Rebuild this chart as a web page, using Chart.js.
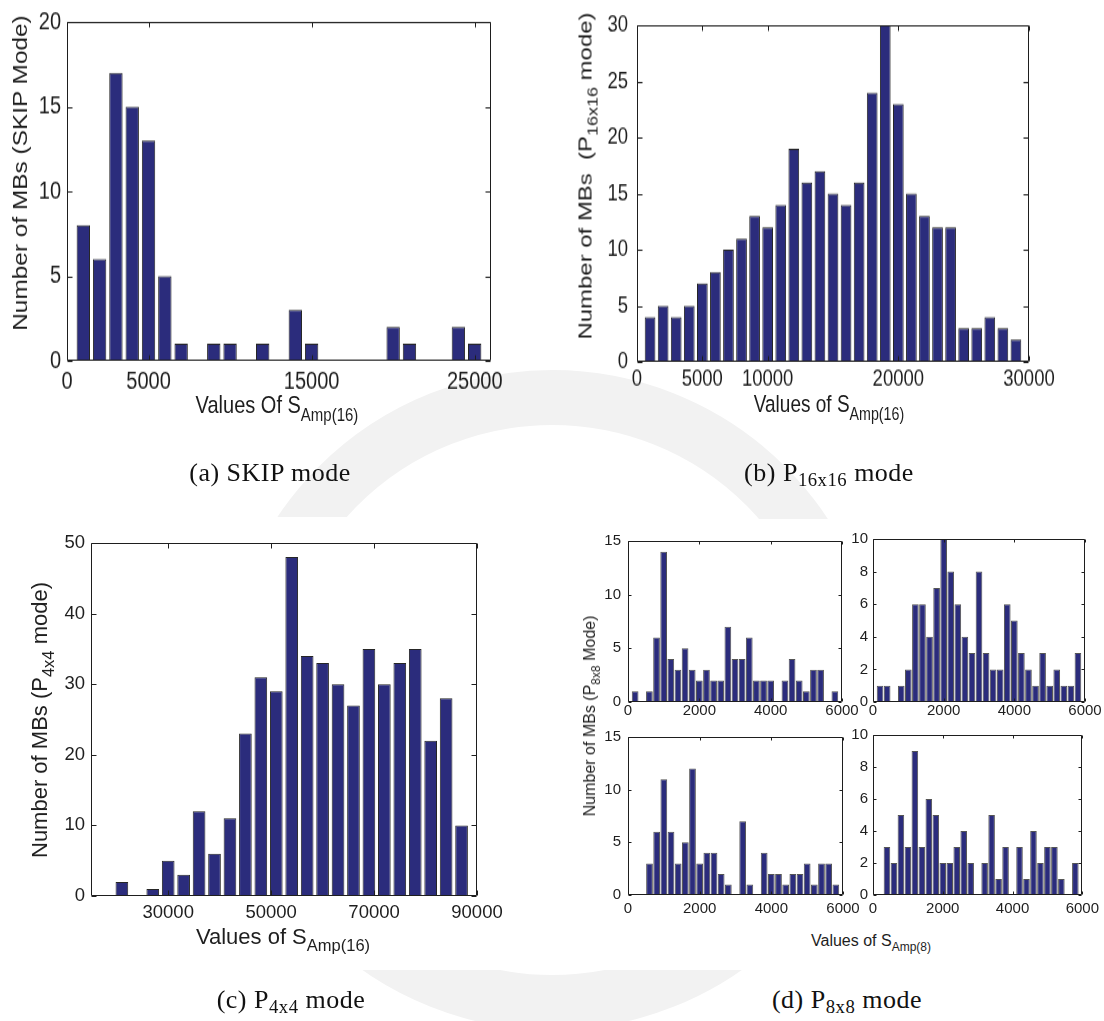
<!DOCTYPE html>
<html>
<head>
<meta charset="utf-8">
<script src="https://cdn.jsdelivr.net/npm/chart.js@4.4.1/dist/chart.umd.min.js"></script>
<style>
  body { margin: 0; background: #fff; }
  #page { position: relative; width: 1104px; height: 1021px; overflow: hidden; background: #fff;
          font-family: 'Liberation Sans', Arial, sans-serif; color: #1e1e1e; }
  .mark { position: absolute; box-sizing: border-box; border-radius: 50%; border: 55px solid #f2f2f2; }
  .sheet { position: absolute; background: #fff; }
  canvas { position: absolute; }
  .title { position: absolute; white-space: nowrap; line-height: 1; }
  .title sub { font-size: 0.75em; vertical-align: -0.45em; line-height: 0; }
  .caption { position: absolute; white-space: nowrap; line-height: 1; transform: translateX(-50%);
             font-family: 'Liberation Serif', serif; font-size: 26px; letter-spacing: 0.5px; color: #111; }
  .caption sub { font-size: 0.72em; vertical-align: -0.25em; line-height: 0; }
</style>
</head>
<body>
<div id="page">
  <div class="mark" style="left:222px; top:370px; width:660px; height:660px;"></div>
  <div class="sheet" style="left:18px; top:517px; width:535px; height:453px;"></div>
  <div class="sheet" style="left:583px; top:519px; width:521px; height:451px;"></div>

  <!-- (a) SKIP: bitmap is 361 tall, shown 440 tall -->
  <canvas id="skipChart" width="545" height="361" style="left:0; top:0; width:545px; height:440px;"></canvas>
  <div class="title" style="left:277px; top:394px; font-size:20px; transform:translateX(-50%) scaleY(1.22);">Values Of S<sub>Amp(16)</sub></div>
  <div class="title" style="left:20px; top:173px; font-size:20px; transform:translate(-50%,-50%) rotate(-90deg) scaleX(1.22);">Number of MBs (SKIP Mode)</div>

  <!-- (b) P16x16: bitmap is 349 tall, shown 440 tall -->
  <canvas id="p16Chart" width="544" height="349" style="left:560px; top:0; width:544px; height:440px;"></canvas>
  <div class="title" style="left:829px; top:394px; font-size:19px; transform:translateX(-50%) scaleY(1.26);">Values of S<sub>Amp(16)</sub></div>
  <div class="title" style="left:585px; top:176px; font-size:19px; transform:translate(-50%,-50%) rotate(-90deg) scaleX(1.26);">Number of MBs&nbsp;&nbsp;(P<sub>16x16</sub> mode)</div>

  <!-- (c) P4x4 -->
  <canvas id="p4Chart" width="535" height="453" style="left:18px; top:517px;"></canvas>
  <div class="title" style="left:283px; top:926px; font-size:22px; transform:translateX(-50%);">Values of S<sub>Amp(16)</sub></div>
  <div class="title" style="left:40px; top:720px; font-size:22px; transform:translate(-50%,-50%) rotate(-90deg);">Number of MBs (P<sub>4x4</sub> mode)</div>

  <!-- (d) P8x8, four small histograms -->
  <canvas id="p8ChartA" width="275" height="197" style="left:595px; top:525px;"></canvas>
  <canvas id="p8ChartB" width="256" height="197" style="left:848px; top:525px;"></canvas>
  <canvas id="p8ChartC" width="275" height="198" style="left:595px; top:721px;"></canvas>
  <canvas id="p8ChartD" width="256" height="198" style="left:848px; top:721px;"></canvas>
  <div class="title" style="left:871px; top:933px; font-size:16px; transform:translateX(-50%);">Values of S<sub>Amp(8)</sub></div>
  <div class="title" style="left:590px; top:716px; font-size:16px; transform:translate(-50%,-50%) rotate(-90deg);">Number of MBs (P<sub>8x8</sub> Mode)</div>

  <div class="caption" style="left:270px; top:460px;">(a) SKIP mode</div>
  <div class="caption" style="left:829px; top:460px;">(b) P<sub>16x16</sub> mode</div>
  <div class="caption" style="left:291px; top:987px;">(c) P<sub>4x4</sub> mode</div>
  <div class="caption" style="left:847px; top:987px;">(d) P<sub>8x8</sub> mode</div>
</div>

<script>
// --- histogram data (bin centres and counts) ---
const skipBins = [1000, 2000, 3000, 4000, 5000, 6000, 7000, 8000, 9000, 10000, 11000, 12000, 13000,
                  14000, 15000, 16000, 17000, 18000, 19000, 20000, 21000, 22000, 23000, 24000, 25000];
const skipCounts = [8, 6, 17, 15, 13, 5, 1, 0, 1, 1, 0, 1, 0, 3, 1, 0, 0, 0, 0, 2, 1, 0, 0, 2, 1];
const skipXTicks = [0, 5000, 15000, 25000];

const p16Bins = [1000, 2000, 3000, 4000, 5000, 6000, 7000, 8000, 9000, 10000, 11000, 12000, 13000, 14000, 15000,
                 16000, 17000, 18000, 19000, 20000, 21000, 22000, 23000, 24000, 25000, 26000, 27000, 28000, 29000];
const p16Counts = [4, 5, 4, 5, 7, 8, 10, 11, 13, 12, 14, 19, 16, 17, 15, 14, 16, 24, 30, 23, 15, 13, 12, 12, 3, 3, 4, 3, 2];
const p16XTicks = [0, 5000, 10000, 20000, 30000];

const p4Bins = [21000, 24000, 27000, 30000, 33000, 36000, 39000, 42000, 45000, 48000, 51000, 54000,
                57000, 60000, 63000, 66000, 69000, 72000, 75000, 78000, 81000, 84000, 87000];
const p4Counts = [2, 0, 1, 5, 3, 12, 6, 11, 23, 31, 29, 48, 34, 33, 30, 27, 35, 30, 33, 35, 22, 28, 10];
const p4XTicks = [30000, 50000, 70000, 90000];

const p8Bins = [200, 400, 600, 800, 1000, 1200, 1400, 1600, 1800, 2000, 2200, 2400, 2600, 2800, 3000,
                3200, 3400, 3600, 3800, 4000, 4200, 4400, 4600, 4800, 5000, 5200, 5400, 5600, 5800];
const p8CountsA = [1, 0, 1, 6, 14, 4, 3, 5, 3, 2, 3, 2, 2, 7, 4, 4, 6, 2, 2, 2, 0, 2, 4, 2, 1, 3, 3, 0, 1];
const p8CountsB = [1, 1, 0, 1, 2, 6, 6, 4, 7, 10, 8, 6, 4, 3, 8, 3, 2, 2, 6, 5, 3, 2, 1, 3, 1, 2, 1, 1, 3];
const p8CountsC = [0, 0, 3, 6, 11, 6, 3, 5, 12, 3, 4, 4, 2, 1, 0, 7, 1, 0, 4, 2, 2, 1, 2, 2, 3, 1, 3, 3, 1];
const p8CountsD = [0, 3, 2, 5, 3, 9, 3, 6, 5, 2, 2, 3, 4, 2, 0, 2, 5, 1, 3, 0, 3, 1, 4, 2, 3, 3, 1, 0, 2];
const p8XTicks = [0, 2000, 4000, 6000];

const barFill = '#2b2c7c';
const axisColor = '#1e1e1e';

const crisp = v => Math.round(v) + 0.5;

// box around the plot with inward tick marks on all four sides
const boxTicks = {
    id: 'boxTicks',
    afterDraw(chart, args, opts) {
        const { ctx, chartArea: a, scales: { x, y } } = chart;
        const l = crisp(a.left), r = crisp(a.right - 1), t = crisp(a.top), b = crisp(a.bottom - 1);
        ctx.save();
        ctx.strokeStyle = axisColor;
        ctx.lineWidth = 1;
        ctx.beginPath();
        x.ticks.forEach(tk => {
            const px = crisp(x.getPixelForValue(tk.value));
            ctx.moveTo(px, b); ctx.lineTo(px, b - opts.xLen);
            ctx.moveTo(px, t); ctx.lineTo(px, t + opts.xLen);
        });
        y.ticks.forEach(tk => {
            const py = crisp(y.getPixelForValue(tk.value));
            ctx.moveTo(l, py); ctx.lineTo(l + opts.yLen, py);
            ctx.moveTo(r, py); ctx.lineTo(r - opts.yLen, py);
        });
        ctx.moveTo(l, t); ctx.lineTo(r, t); ctx.lineTo(r, b); ctx.lineTo(l, b); ctx.closePath();
        ctx.stroke();
        ctx.restore();
    }
};

// one histogram in MATLAB hist() style
const createHist = (id, bins, counts, xTicks, g) => {
    const ctx = document.getElementById(id).getContext('2d');
    return new Chart(ctx, {
        type: 'bar',
        data: {
            datasets: [{
                data: bins.map((b, i) => ({ x: b, y: counts[i] })),
                backgroundColor: barFill,
                borderColor: g.edge,
                borderWidth: 1,
                borderSkipped: false,
                barPercentage: g.barWidth,
                categoryPercentage: 1
            }]
        },
        options: {
            responsive: false,
            animation: false,
            events: [],
            layout: { padding: { top: g.padTop, right: g.padRight, left: 0, bottom: 0 } },
            plugins: {
                legend: { display: false },
                tooltip: { enabled: false },
                boxTicks: { xLen: g.xLen, yLen: g.yLen }
            },
            scales: {
                x: {
                    type: 'linear',
                    min: g.xMin,
                    max: g.xMax,
                    offset: false,
                    grid: { display: false, drawTicks: false, offset: false },
                    border: { display: false },
                    ticks: {
                        autoSkip: false,
                        maxRotation: 0,
                        padding: g.xPad,
                        color: axisColor,
                        font: { family: 'Liberation Sans', size: g.font },
                        callback: v => String(v)
                    },
                    afterBuildTicks: s => { s.ticks = xTicks.map(v => ({ value: v })); },
                    afterFit: s => { s.height = g.xAxisH; }
                },
                y: {
                    min: 0,
                    max: g.yMax,
                    grid: { display: false, drawTicks: false },
                    border: { display: false },
                    ticks: {
                        stepSize: g.yStep,
                        padding: g.yPad,
                        color: axisColor,
                        font: { family: 'Liberation Sans', size: g.font },
                        callback: v => String(v)
                    },
                    afterFit: s => { s.width = g.yAxisW; }
                }
            }
        },
        plugins: [boxTicks]
    });
};

const big = { edge: '#262626', barWidth: 0.82 };
const small = { edge: '#555555', barWidth: 0.94, font: 15, xMin: 0, xMax: 6000, xLen: 3, yLen: 3 };

createHist('skipChart', skipBins, skipCounts, skipXTicks, { ...big,
    xMin: 0, xMax: 26000, yMax: 20, yStep: 5, font: 20,
    padTop: 14, padRight: 54, yAxisW: 67, xAxisH: 65, xPad: 5, yPad: 6, xLen: 4, yLen: 5 });

createHist('p16Chart', p16Bins, p16Counts, p16XTicks, { ...big,
    xMin: 0, xMax: 30000, yMax: 30, yStep: 5, font: 18.5,
    padTop: 12, padRight: 75, yAxisW: 77, xAxisH: 62, xPad: 3, yPad: 9, xLen: 4, yLen: 5 });

createHist('p4Chart', p4Bins, p4Counts, p4XTicks, { ...big,
    xMin: 15000, xMax: 90000, yMax: 50, yStep: 10, font: 18.5,
    padTop: 26, padRight: 76, yAxisW: 73, xAxisH: 74, xPad: 6, yPad: 6, xLen: 5, yLen: 5 });

createHist('p8ChartA', p8Bins, p8CountsA, p8XTicks, { ...small,
    yMax: 15, yStep: 5, padTop: 13, padRight: 28, yAxisW: 33, xAxisH: 20, xPad: 0, yPad: 7 });
createHist('p8ChartB', p8Bins, p8CountsB, p8XTicks, { ...small,
    yMax: 10, yStep: 2, padTop: 13, padRight: 19, yAxisW: 25, xAxisH: 20, xPad: 0, yPad: 5 });
createHist('p8ChartC', p8Bins, p8CountsC, p8XTicks, { ...small,
    yMax: 15, yStep: 5, padTop: 13, padRight: 27, yAxisW: 33, xAxisH: 24, xPad: 5, yPad: 7 });
createHist('p8ChartD', p8Bins, p8CountsD, p8XTicks, { ...small,
    yMax: 10, yStep: 2, padTop: 13, padRight: 19, yAxisW: 25, xAxisH: 24, xPad: 5, yPad: 5 });
</script>
</body>
</html>
